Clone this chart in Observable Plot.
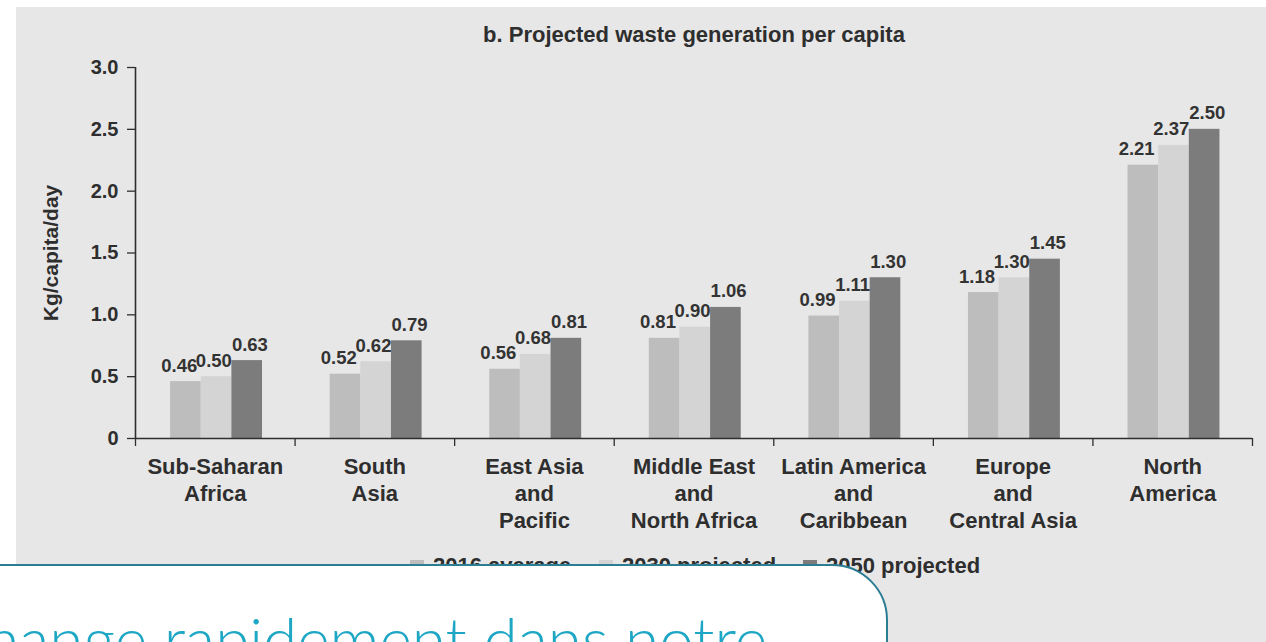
<!DOCTYPE html>
<html>
<head>
<meta charset="utf-8">
<script src="https://cdn.jsdelivr.net/npm/d3@7"></script>
<script src="https://cdn.jsdelivr.net/npm/@observablehq/plot@0.6"></script>
<style>
  html, body { margin: 0; padding: 0; background: #fff; }
  body { width: 1266px; height: 642px; overflow: hidden; position: relative; font-family: "Liberation Sans", Arial, sans-serif; }
  #panel { position: absolute; left: 16px; top: 7px; right: 0; bottom: 0; background: #e7e7e7; }
  #title { position: absolute; left: 394px; width: 600px; top: 24px; line-height: 1; text-align: center;
           font-size: 22px; font-weight: bold; color: #2e2e2e; }
  #chart { position: absolute; left: 16px; top: 50px; }
  #legend { position: absolute; left: 0; top: 554px; width: 1266px; height: 30px; font-size: 22px; font-weight: bold; color: #2e2e2e; }
  #legend .item { position: absolute; top: 0; display: flex; align-items: center; gap: 9px; line-height: 24px; white-space: nowrap; }
  #legend .sw { width: 14px; height: 13px; display: inline-block; }
  #note { position: absolute; left: -20px; top: 564px; width: 908px; height: 140px; background: #fff;
          border: 2px solid #2b7d93; border-top-right-radius: 56px; box-sizing: border-box; overflow: hidden; }
  #note p { margin: 0; position: absolute; left: -26px; top: 41px; line-height: 62px; white-space: nowrap;
            font-family: Lato, "Open Sans", sans-serif; font-weight: 300; font-size: 62px; color: #1ea7c5; }
</style>
</head>
<body>
<div id="panel"></div>
<div id="title">b. Projected waste generation per capita</div>
<div id="chart"></div>
<div id="legend"></div>
<div id="note"><p>change rapidement dans notre</p></div>
<script>
// Regions (x categories), with line breaks as printed under the axis
const regions = [
  "Sub-Saharan\nAfrica",
  "South\nAsia",
  "East Asia\nand\nPacific",
  "Middle East\nand\nNorth Africa",
  "Latin America\nand\nCaribbean",
  "Europe\nand\nCentral Asia",
  "North\nAmerica"
];

// Series
const seriesNames = ["2016 average", "2030 projected", "2050 projected"];
const seriesColors = ["#bdbdbd", "#d4d4d4", "#7c7c7c"];

// Waste generation, kg/capita/day
const avg2016 = [0.46, 0.52, 0.56, 0.81, 0.99, 1.18, 2.21];
const proj2030 = [0.50, 0.62, 0.68, 0.90, 1.11, 1.30, 2.37];
const proj2050 = [0.63, 0.79, 0.81, 1.06, 1.30, 1.45, 2.50];

// Y tick values
const yTicks = [0, 0.5, 1.0, 1.5, 2.0, 2.5, 3.0];

const seriesValues = [avg2016, proj2030, proj2050];
const rows = [];
regions.forEach((region, i) => {
  seriesNames.forEach((s, j) => {
    rows.push({i, j, region, series: s, value: seriesValues[j][i]});
  });
});

// Each region occupies one unit on x; three adjacent bars sit in the middle of it
const barW = 0.192;
const groupStart = 0.22;
const x1 = d => d.i + groupStart + d.j * barW;
const x2 = d => x1(d) + barW;

const textFont = "Liberation Sans, Arial, sans-serif";
const ink = "#2e2e2e";

// Value labels: the two earlier series end at their bar's right edge,
// the 2050 series starts at its bar's left edge
const labelStyle = {
  y: "value", text: d => d.value.toFixed(2), lineAnchor: "bottom", dy: -10,
  fontSize: 18.5, fontWeight: "bold", fill: "#333"
};

const chart = Plot.plot({
  width: 1250,
  height: 490,
  marginLeft: 119,
  marginRight: 14,
  marginTop: 17,
  marginBottom: 102,
  style: {background: "transparent", fontFamily: textFont, color: ink},
  x: {domain: [0, regions.length], axis: null},
  y: {domain: [0, 3], axis: null},
  color: {domain: seriesNames, range: seriesColors},
  marks: [
    Plot.rectY(rows, {x1, x2, y: "value", fill: "series"}),
    Plot.text(rows.filter(d => d.j === 0), {...labelStyle, x: x2, textAnchor: "end", dx: -4}),
    Plot.text(rows.filter(d => d.j === 1), {...labelStyle, x: x2, textAnchor: "end", dx: 0}),
    Plot.text(rows.filter(d => d.j === 2), {...labelStyle, x: x1, textAnchor: "start", dx: 0}),
    // y axis
    Plot.ruleX([0], {stroke: ink, strokeWidth: 1.6}),
    Plot.axisY({
      ticks: yTicks, tickSize: 8, tickPadding: 9,
      tickFormat: d => d === 0 ? "0" : d.toFixed(1),
      fontSize: 20, fontWeight: "bold", stroke: ink, strokeWidth: 1.3,
      label: "Kg/capita/day", labelAnchor: "center", labelArrow: "none", labelOffset: 92
    }),
    // x axis: line, boundary ticks and region labels
    Plot.ruleY([0], {stroke: ink, strokeWidth: 1.6}),
    Plot.axisX({ticks: d3.range(0, regions.length + 1), tickSize: 8, tickFormat: () => "", stroke: ink, strokeWidth: 1.3}),
    Plot.axisX({
      ticks: d3.range(regions.length).map(i => i + 0.5),
      tickFormat: v => regions[Math.floor(v)],
      tickSize: 0, tickPadding: 16, fontSize: 22, fontWeight: "bold", lineHeight: 1.23, fill: ink
    })
  ]
});
document.getElementById("chart").append(chart);

// Y-axis title size
chart.querySelectorAll("[aria-label='y-axis label'] text").forEach(t => {
  t.setAttribute("font-size", 21);
});

// Legend
const legendLefts = [410, 599, 803];
const legend = document.getElementById("legend");
seriesNames.forEach((name, j) => {
  const item = document.createElement("span");
  item.className = "item";
  item.style.left = legendLefts[j] + "px";
  const sw = document.createElement("span");
  sw.className = "sw";
  sw.style.background = seriesColors[j];
  item.append(sw, document.createTextNode(name));
  legend.append(item);
});
</script>
</body>
</html>
